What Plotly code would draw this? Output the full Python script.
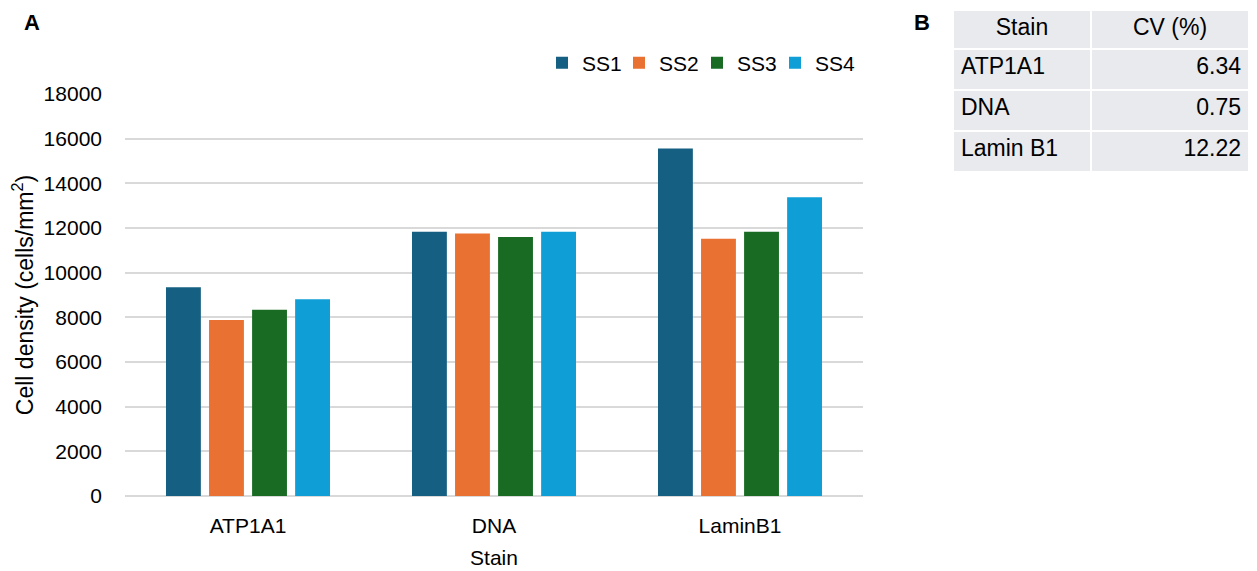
import plotly.graph_objects as go

W, H = 1257, 571
OFF = 8  # page body margin offset

stains = ["ATP1A1", "DNA", "LaminB1"]
series_names = ["SS1", "SS2", "SS3", "SS4"]
ss1 = [9350, 11830, 15560]
ss2 = [7880, 11750, 11520]
ss3 = [8340, 11600, 11830]
ss4 = [8810, 11830, 13380]
colors = ["#156082", "#E97132", "#196B24", "#0F9ED5"]

table_stains = ["ATP1A1", "DNA", "Lamin B1"]
table_cv = ["6.34", "0.75", "12.22"]
table_header = ["Stain", "CV (%)"]

y_ticks = [0, 2000, 4000, 6000, 8000, 10000, 12000, 14000, 16000, 18000]

FONT = "Liberation Sans, Arial, sans-serif"


def px(x):
    return min(1, max(0, (x - OFF) / W))


def py(y):
    return min(1, max(0, 1 - (y - OFF) / H))


legend_ids = ["legend", "legend2", "legend3", "legend4"]
legend_square_x = [556, 633, 711, 789]

fig = go.Figure()
for name, vals, c, lid in zip(series_names, [ss1, ss2, ss3, ss4], colors, legend_ids):
    fig.add_trace(go.Bar(x=stains, y=vals, name=name, legend=lid,
                         marker=dict(color=c, line=dict(width=0))))

fig.add_trace(go.Table(
    domain=dict(x=[px(953), px(1249)], y=[py(172), py(10)]),
    columnwidth=[138, 158],
    header=dict(values=table_header, align=["center", "center"], height=39,
                fill_color="#E8EAED", line=dict(color="white", width=2),
                font=dict(family=FONT, size=23, color="black")),
    cells=dict(values=[table_stains, table_cv], align=["left", "right"], height=41,
               fill_color="#E8EAED", line=dict(color="white", width=2),
               font=dict(family=FONT, size=23, color="black")),
))

legend_layouts = {}
for lid, sx in zip(legend_ids, legend_square_x):
    legend_layouts[lid] = dict(orientation="h", x=px(sx - 14), xanchor="left",
                               y=py(63), yanchor="middle", font=dict(size=21),
                               bgcolor="rgba(0,0,0,0)")

fig.update_layout(
    width=W, height=H,
    margin=dict(l=0, r=0, t=0, b=0),
    paper_bgcolor="white", plot_bgcolor="white",
    font=dict(family=FONT, size=21, color="#000000"),
    barmode="group", bargap=0.30, bargroupgap=0.19,
    xaxis=dict(domain=[px(125), px(863)], showline=False, ticks="",
               title=dict(text="Stain", font=dict(size=21), standoff=14),
               tickfont=dict(size=21), ticklabelstandoff=15, automargin=False),
    yaxis=dict(domain=[py(496), py(94)], range=[0, 18000],
               tickvals=y_ticks, ticktext=[str(v) for v in y_ticks],
               showgrid=True, gridcolor="#D9D9D9", gridwidth=1.5,
               zeroline=True, zerolinecolor="#D9D9D9", zerolinewidth=1.5,
               ticks="", ticklabelstandoff=22,
               title=dict(text="Cell density (cells/mm<sup>2</sup>)", font=dict(size=23), standoff=4),
               tickfont=dict(size=21), automargin=False),
    showlegend=True,
    annotations=[
        dict(text="<b>A</b>", x=px(32), y=1, xref="paper", yref="paper",
             showarrow=False, font=dict(size=22, color="black"), xanchor="center", yanchor="top"),
        dict(text="<b>B</b>", x=px(922), y=1, xref="paper", yref="paper",
             showarrow=False, font=dict(size=22, color="black"), xanchor="center", yanchor="top"),
    ],
    **legend_layouts,
)

fig.write_html("out.html")
